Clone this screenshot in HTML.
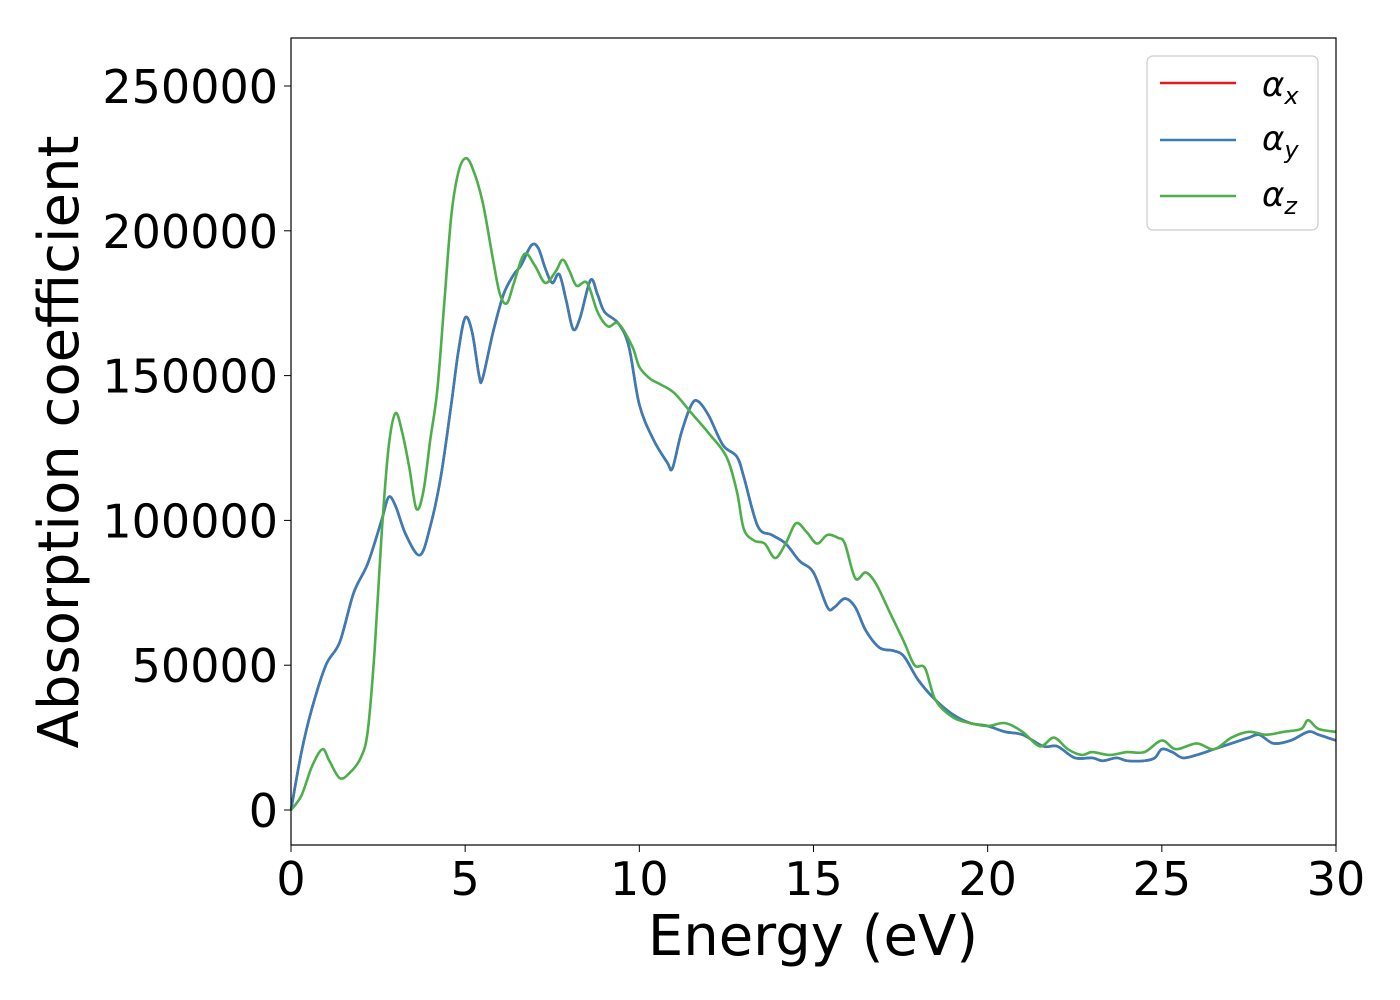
<!DOCTYPE html>
<html><head><meta charset="utf-8"><style>
html,body{margin:0;padding:0;background:#fff;}
svg{display:block;font-family:"DejaVu Sans","Liberation Sans",sans-serif;}
</style></head><body>
<svg id="chart" width="1400" height="1000" viewBox="0 0 1400 1000" xmlns="http://www.w3.org/2000/svg">
<rect width="1400" height="1000" fill="#fff"/>
<g id="ticks"></g>
<g id="series"></g>
<rect x="291" y="38" width="1045" height="807" fill="none" stroke="#000" stroke-width="1.2"/>
<text x="813" y="955" font-size="56" text-anchor="middle">Energy (eV)</text>
<text transform="translate(78,442) rotate(-90)" font-size="56" text-anchor="middle">Absorption coefficient</text>
<g>
<rect x="1147" y="56" width="171" height="174" rx="6" fill="#fff" stroke="#ccc" stroke-width="1.2"/>
<line x1="1160" y1="83" x2="1236" y2="83" stroke="#e41a1c" stroke-width="2.5"/>
<text x="1262" y="96" font-size="34" font-style="italic">α<tspan font-size="24" dy="8">x</tspan></text>
<line x1="1160" y1="140" x2="1236" y2="140" stroke="#377eb8" stroke-width="2.5"/>
<text x="1262" y="150" font-size="34" font-style="italic">α<tspan font-size="24" dy="8">y</tspan></text>
<line x1="1160" y1="196" x2="1236" y2="196" stroke="#4daf4a" stroke-width="2.5"/>
<text x="1262" y="206" font-size="34" font-style="italic">α<tspan font-size="24" dy="8">z</tspan></text>
</g>
</svg>
<script>
const xTicks=[0,5,10,15,20,25,30];
const yTicks=[0,50000,100000,150000,200000,250000];
const energyY=[0,0.3,0.6,1.0,1.4,1.8,2.2,2.6,2.8,3.0,3.3,3.7,4.0,4.3,4.6,4.8,5.0,5.2,5.4,5.5,5.8,6.1,6.4,6.6,6.9,7.1,7.3,7.5,7.7,7.9,8.1,8.3,8.6,8.8,9.0,9.4,9.7,10.0,10.4,10.8,10.95,11.2,11.5,11.7,12.0,12.4,12.8,13.0,13.4,13.8,14.2,14.6,15.0,15.4,15.6,15.9,16.2,16.5,16.9,17.3,17.6,18.0,18.5,19.0,19.5,20.0,20.5,21.0,21.6,22.0,22.5,23.0,23.3,23.7,24.0,24.5,24.8,25.0,25.3,25.6,26.0,26.5,27.0,27.5,27.8,28.2,28.7,29.2,29.5,30];
const alphaY=[0,20,35,50,58,75,85,100,108,105,95,88,98,115,140,158,170,165,150,149,165,178,185,188,195,194,187,182,185,176,166,170,183,178,172,168,160,140,128,120,118,130,140,141,136,126,122,115,98,95,92,86,82,70,70,73,70,62,56,55,53,45,38,33,30,29,27,26,22,22,18,18,17,18,17,17,18,21,20,18,19,21,23,25,26,23,24,27,26,24].map(v=>v*1000);
const alphaX=alphaY.slice();
const energyZ=[0,0.3,0.6,0.9,1.1,1.4,1.7,2.0,2.2,2.4,2.6,2.8,3.0,3.2,3.4,3.6,3.8,4.0,4.2,4.4,4.6,4.8,5.0,5.2,5.5,5.8,6.0,6.2,6.4,6.7,7.0,7.3,7.6,7.8,8.0,8.2,8.5,8.8,9.1,9.4,9.8,10.0,10.3,10.6,11.0,11.5,12.0,12.5,12.8,13.0,13.3,13.6,13.9,14.2,14.5,14.8,15.1,15.4,15.7,15.9,16.2,16.5,16.8,17.2,17.6,17.9,18.2,18.5,19.0,19.5,20.0,20.5,21.0,21.5,21.9,22.3,22.7,23.0,23.5,24.0,24.5,25.0,25.4,26.0,26.5,27.0,27.5,28.0,28.5,29.0,29.2,29.5,30];
const alphaZ=[0,5,15,21,17,11,13,18,27,55,95,125,137,130,118,104,110,128,145,175,205,220,225,222,210,190,178,175,182,192,188,182,186,190,186,181,182,172,167,168,160,153,149,147,144,137,130,122,110,97,93,92,87,92,99,96,92,95,94,92,80,82,78,68,58,50,49,38,32,30,29,30,27,22,25,21,19,20,19,20,20,24,21,23,21,25,27,26,27,28,31,28,27].map(v=>v*1000);

const X0=291,X1=1336,Y0=810,YK=724/250000;
const sx=e=>X0+(e-0)*(X1-X0)/30;
const sy=v=>Y0-v*YK;
const NS="http://www.w3.org/2000/svg";
const tg=document.getElementById('ticks');
xTicks.forEach(t=>{
  const l=document.createElementNS(NS,'line');
  
  
  l.setAttribute('x1',sx(t));l.setAttribute('x2',sx(t));l.setAttribute('y1',845);l.setAttribute('y2',852);l.setAttribute('stroke','#000');
  tg.appendChild(l);
  const tx=document.createElementNS(NS,'text');
  
  
  tx.setAttribute('x',sx(t));tx.setAttribute('y',895);tx.setAttribute('font-size','46');tx.setAttribute('text-anchor','middle');
  tx.textContent=t;tg.appendChild(tx);
});
yTicks.forEach(t=>{
  const l=document.createElementNS(NS,'line');
  
  
  l.setAttribute('x1',284);l.setAttribute('x2',291);l.setAttribute('y1',sy(t));l.setAttribute('y2',sy(t));l.setAttribute('stroke','#000');
  tg.appendChild(l);
  const tx=document.createElementNS(NS,'text');
  
  
  tx.setAttribute('x',278);tx.setAttribute('y',sy(t)+17);tx.setAttribute('font-size','46');tx.setAttribute('text-anchor','end');
  tx.textContent=t;tg.appendChild(tx);
});
const sg=document.getElementById('series');
function line(xs,ys,color,name){
  const p=document.createElementNS(NS,'path');
  
  
  let d='';
  const pts=xs.map((e,i)=>[sx(e),sy(ys[i])]);
  d='M'+pts[0][0]+','+pts[0][1];
  for(let i=0;i<pts.length-1;i++){
    const p0=pts[Math.max(0,i-1)],p1=pts[i],p2=pts[i+1],p3=pts[Math.min(pts.length-1,i+2)];
    const c1=[p1[0]+(p2[0]-p0[0])/6,p1[1]+(p2[1]-p0[1])/6];
    const c2=[p2[0]-(p3[0]-p1[0])/6,p2[1]-(p3[1]-p1[1])/6];
    d+=' C'+c1[0]+','+c1[1]+' '+c2[0]+','+c2[1]+' '+p2[0]+','+p2[1];
  }
  p.setAttribute('d',d);p.setAttribute('fill','none');p.setAttribute('stroke',color);p.setAttribute('stroke-width','2.6');
  sg.appendChild(p);
}
line(energyY,alphaX,'#e41a1c','series-alpha-x');
line(energyY,alphaY,'#377eb8','series-alpha-y');
line(energyZ,alphaZ,'#4daf4a','series-alpha-z');
</script>
</body></html>
